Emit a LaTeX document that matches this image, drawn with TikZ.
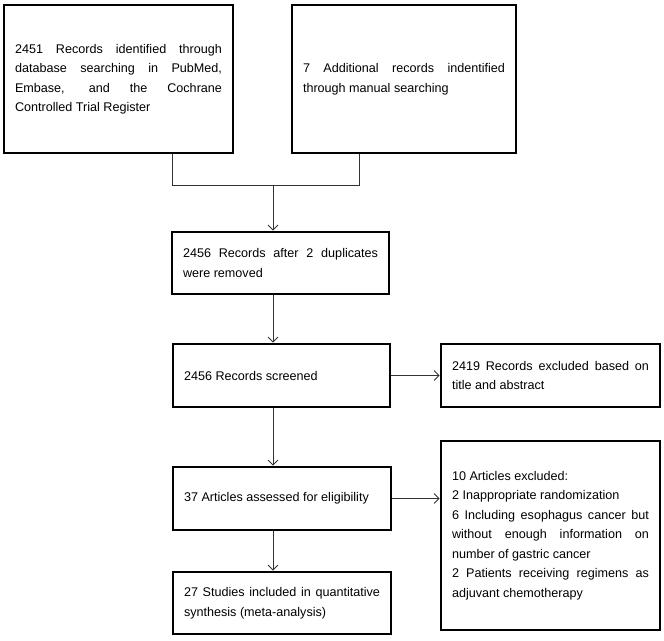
\documentclass[tikz,border=0pt]{standalone}
\usepackage{fontspec}
\setmainfont{Liberation Sans}
\usetikzlibrary{arrows.meta}

\begin{document}
\begin{tikzpicture}[x=1pt, y=-1pt,
    box/.style={draw=black, line width=2.6pt, inner xsep=11pt, inner ysep=0pt,
        align=justify, font=\fontsize{12.6}{19.5}\selectfont,
        execute at begin node={\hyphenpenalty=10000}},
    link/.style={draw=black!80, line width=0.9pt},
    arr/.style={link, -{Straight Barb[length=5pt, width=10pt, line width=0.9pt]}}]

\useasboundingbox (0,0) rectangle (664,640);

% === Identification ===
\node[box, minimum width=229pt, minimum height=148pt, text width=207pt] (db) at (118.5,79)
    {2451 Records identified through database searching in PubMed, Embase, and the Cochrane Controlled Trial Register};
\node[box, minimum width=224pt, minimum height=148pt, text width=202pt] (manual) at (404,79)
    {7 Additional records indentified through manual searching};

% === Merge ===
\coordinate (jl) at (172,185);
\coordinate (jr) at (359,185);
\coordinate (join) at (273,185);
\draw[link] (jl |- db.south) -- (jl) -- (jr) -- (jr |- manual.south);

\node[box, minimum width=217pt, minimum height=62pt, text width=195pt] (dup) at (280.5,263)
    {2456 Records after 2 duplicates were removed};
\draw[arr] (join) -- (join |- dup.north);

% === Screening ===
\node[box, minimum width=217pt, minimum height=63pt, text width=195pt] (screen) at (281.5,375.5)
    {2456 Records screened};
\node[box, minimum width=219pt, minimum height=63pt, text width=197pt] (excl) at (550.5,375.5)
    {2419 Records excluded based on title and abstract};
\draw[arr] (join |- dup.south) -- (join |- screen.north);
\draw[arr] (screen.east) -- (excl.west);

% === Eligibility ===
\node[box, minimum width=218pt, minimum height=63pt, text width=196pt] (elig) at (282,498.5)
    {37 Articles assessed for eligibility};
\node[box, minimum width=219pt, minimum height=189pt, text width=197pt] (reasons) at (550.5,535.5)
    {10 Articles excluded:\\
     2 Inappropriate randomization\\
     6 Including esophagus cancer but without enough information on number of gastric cancer\\
     2 Patients receiving regimens as adjuvant chemotherapy};
\draw[arr] (join |- screen.south) -- (join |- elig.north);
\draw[arr] (elig.east) -- (elig.east -| reasons.west);

% === Included ===
\node[box, minimum width=218pt, minimum height=62pt, text width=196pt] (incl) at (282,603)
    {27 Studies included in quantitative synthesis (meta-analysis)};
\draw[arr] (join |- elig.south) -- (join |- incl.north);

\end{tikzpicture}
\end{document}
